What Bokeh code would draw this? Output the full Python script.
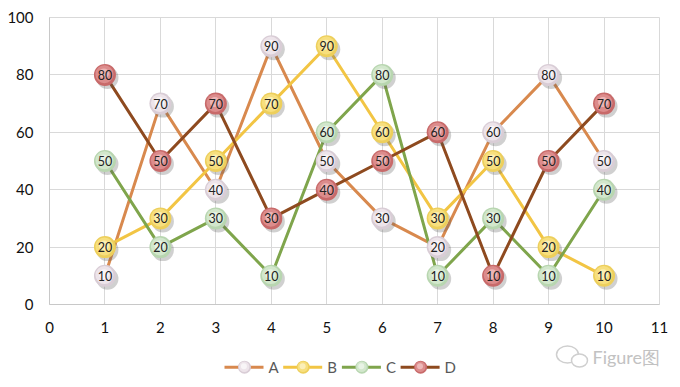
from bokeh.plotting import figure
from bokeh.layouts import column
from bokeh.models import Range1d, FixedTicker, ColumnDataSource, Label
from bokeh.transform import dodge
from bokeh.core.properties import value
from bokeh.embed import file_html
from bokeh.resources import INLINE

x = [1, 2, 3, 4, 5, 6, 7, 8, 9, 10]
series_names = ["A", "B", "C", "D"]
A = [10, 70, 40, 90, 50, 30, 20, 60, 80, 50]
B = [20, 30, 50, 70, 90, 60, 30, 50, 20, 10]
C = [50, 20, 30, 10, 60, 80, 10, 30, 10, 40]
D = [80, 50, 70, 30, 40, 50, 60, 10, 50, 70]
x_ticks = [0, 1, 2, 3, 4, 5, 6, 7, 8, 9, 10, 11]
y_ticks = [0, 20, 40, 60, 80, 100]
watermark = "Figure图"

line_colors = ["#D8894E", "#F2C544", "#7FA54C", "#8E4A1F"]
edge_colors = ["#D9CDD6", "#EDCF5C", "#B8D6B0", "#C86A6A"]
mid_colors = ["#EDE4EA", "#F7DF7E", "#D2E7CC", "#DC8C8C"]
hi_colors = ["#F8F5F7", "#FBEFB8", "#E8F3E5", "#EDB9B9"]

FONT = "Lato"
W = 676
BL, BR = 49, 17  # frame borders (left/right)

p = figure(width=W, height=340, x_range=Range1d(0, 11), y_range=Range1d(0, 100),
           output_backend="svg", toolbar_location=None,
           min_border_left=BL, min_border_right=BR, min_border_top=17, min_border_bottom=36)
p.outline_line_color = "#D9D9D9"
p.background_fill_color = "white"
p.border_fill_color = "white"

for ax, tk in ((p.xaxis, x_ticks), (p.yaxis, y_ticks)):
    ax.ticker = FixedTicker(ticks=tk)
    ax.major_tick_line_color = None
    ax.minor_tick_line_color = None
    ax.axis_line_color = "#C8C8C8"
    ax.major_label_text_font = FONT
    ax.major_label_text_font_size = "15px"
    ax.major_label_text_color = "#111111"
p.xaxis.major_label_standoff = 11
p.yaxis.major_label_standoff = 10
p.xgrid.ticker = FixedTicker(ticks=x_ticks)
p.ygrid.ticker = FixedTicker(ticks=y_ticks)
p.xgrid.grid_line_color = "#D9D9D9"
p.ygrid.grid_line_color = "#D9D9D9"

dx = 11 / 610
dy = 100 / 287

data = [A, B, C, D]
sources = []
for i, ys in enumerate(data):
    src = ColumnDataSource(dict(x=x, y=ys, lab=[str(v) for v in ys]))
    sources.append(src)
    p.line("x", "y", source=src, line_color=line_colors[i], line_width=3)

for i, src in enumerate(sources):
    p.scatter(x=dodge("x", 2.5 * dx), y=dodge("y", -3 * dy), source=src, size=22,
              fill_color="#555555", fill_alpha=0.28, line_color=None)
    p.scatter("x", "y", source=src, size=22, fill_color=edge_colors[i], line_color=None)
    p.scatter(x=dodge("x", -0.5 * dx), y=dodge("y", 0.7 * dy), source=src, size=18,
              fill_color=mid_colors[i], line_color=None)
    p.scatter(x=dodge("x", -1 * dx), y=dodge("y", 1.5 * dy), source=src, size=10,
              fill_color=hi_colors[i], line_color=None, fill_alpha=0.9)
    p.text("x", "y", text="lab", source=src, text_align="center", text_baseline="middle",
           text_font=value(FONT), text_font_size="12.5px", text_color="#222222")

# legend strip below the chart; its frame is aligned with the main frame,
# so the x range is set to page pixels
lg = figure(width=W, height=44, x_range=Range1d(BL, W - BR), y_range=Range1d(0, 44),
            output_backend="svg", toolbar_location=None,
            x_axis_location=None, y_axis_location=None,
            min_border_left=BL, min_border_right=BR, min_border_top=0, min_border_bottom=0)
lg.outline_line_color = None
lg.xgrid.visible = False
lg.ygrid.visible = False
lg.background_fill_color = "white"
lg.border_fill_color = "white"

LEG_X0, LEG_PITCH, LEG_Y = 224, 58.7, 17.3
for i, name in enumerate(series_names):
    x0 = LEG_X0 + i * LEG_PITCH
    lg.segment(x0=[x0], y0=[LEG_Y], x1=[x0 + 39], y1=[LEG_Y],
               line_color=line_colors[i], line_width=3)
    lg.scatter(x=[x0 + 20], y=[LEG_Y], size=13, fill_color=edge_colors[i], line_color=None)
    lg.scatter(x=[x0 + 19.7], y=[LEG_Y + 0.4], size=10.5, fill_color=mid_colors[i], line_color=None)
    lg.scatter(x=[x0 + 19.4], y=[LEG_Y + 1], size=6, fill_color=hi_colors[i], line_color=None)
    lg.text(x=[x0 + 44], y=[LEG_Y], text=[name], text_baseline="middle", text_align="left",
            text_font=value(FONT), text_font_size="15px", text_color="#595959")

# watermark (WeChat-like icon + text)
lg.ellipse(x=[567], y=[30], width=[22], height=[17], fill_color=None,
           line_color="#CFCFCF", line_width=1.5)
lg.ellipse(x=[579], y=[24], width=[16], height=[13], fill_color="white",
           line_color="#CFCFCF", line_width=1.5)
lg.add_layout(Label(x=592, y=28, text=watermark, text_font=FONT, text_font_size="18px",
                    text_color="#C2C2C2", text_baseline="middle"))

layout = column(p, lg, spacing=0)
open("out.html", "w").write(file_html(layout, INLINE))
